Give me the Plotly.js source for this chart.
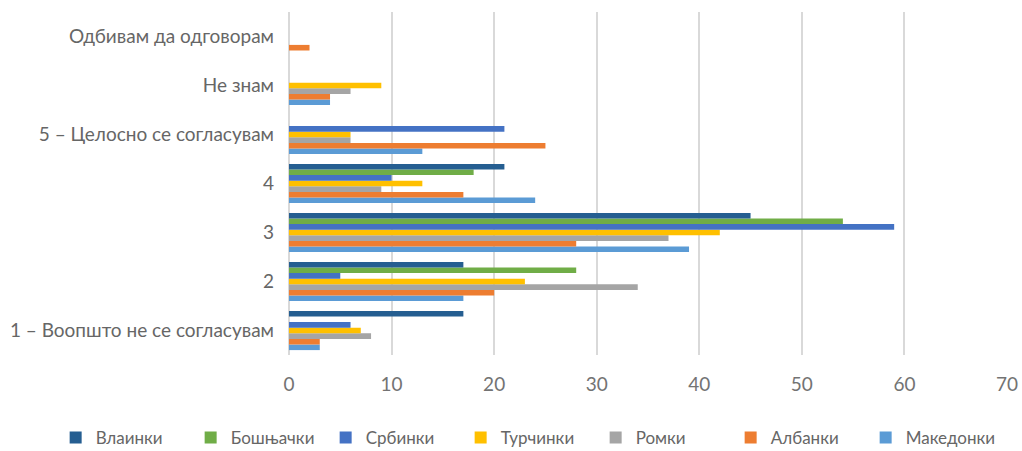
<!DOCTYPE html>
<html><head><meta charset="utf-8">
<script src="https://cdn.plot.ly/plotly-3.0.1.min.js"></script>
<style>html,body{margin:0;padding:0;background:#fff;}#chart{width:1022px;height:451px;}</style>
</head><body><div id="chart"></div>
<script>
const categories = ["1 – Воопшто не се согласувам", "2", "3", "4", "5 – Целосно се согласувам", "Не знам", "Одбивам да одговорам"];
const seriesNames = ["Македонки", "Албанки", "Ромки", "Турчинки", "Србинки", "Бошњачки", "Влаинки"];
const makedonki = [3, 17, 39, 24, 13, 4, 0];
const albanki   = [3, 20, 28, 17, 25, 4, 2];
const romki     = [8, 34, 37, 9, 6, 6, 0];
const turchinki = [7, 23, 42, 13, 6, 9, 0];
const srbinki   = [6, 5, 59, 10, 21, 0, 0];
const boshnjachki = [0, 28, 54, 18, 0, 0, 0];
const vlainki   = [17, 17, 45, 21, 0, 0, 0];
const seriesValues = [makedonki, albanki, romki, turchinki, srbinki, boshnjachki, vlainki];
const colors = ["#5B9BD5", "#ED7D31", "#A5A5A5", "#FFC000", "#4472C4", "#70AD47", "#255E91"];
const xTicks = [0, 10, 20, 30, 40, 50, 60, 70];

const traces = seriesNames.map((n, i) => ({
  type: "bar", orientation: "h", name: n,
  y: categories, x: seriesValues[i],
  marker: {color: colors[i]},
  hoverinfo: "x+name"
}));

const layout = {
  width: 1022, height: 451,
  margin: {l: 289, r: 15, t: 12, b: 96, autoexpand: false},
  barmode: "group", bargap: 0.2, bargroupgap: 0,
  font: {family: "Lato, 'Open Sans', sans-serif", color: "#595959"},
  paper_bgcolor: "#fff", plot_bgcolor: "#fff",
  xaxis: {
    range: [0, 70], tickvals: xTicks, ticktext: xTicks.map(String),
    showgrid: true, gridcolor: "#D9D9D9", gridwidth: 2,
    zeroline: true, zerolinecolor: "#D9D9D9", zerolinewidth: 2,
    tickfont: {size: 19, color: "#737373"}, ticklabelstandoff: 16,
    fixedrange: true, automargin: false
  },
  yaxis: {
    type: "category",
    categoryorder: "array", categoryarray: categories,
    range: [-0.5, categories.length - 0.5], autorange: false,
    tickfont: {size: 19, color: "#666666"}, ticks: "", showline: false,
    ticklabelstandoff: 14, automargin: false
  },
  legend: {
    orientation: "h", x: -0.325, xanchor: "left",
    y: -0.242, yanchor: "middle", traceorder: "reversed",
    font: {size: 17, color: "#666666"},
    entrywidth: 90, entrywidthmode: "pixels"
  },
  showlegend: true
};
Plotly.newPlot("chart", traces, layout, {displayModeBar: false, staticPlot: true});
</script></body></html>
